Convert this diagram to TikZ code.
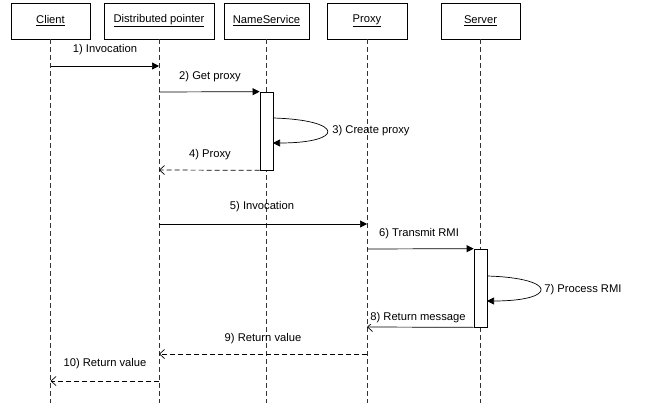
\documentclass[tikz,border=0pt]{standalone}
\usepackage{fontspec}
\setmainfont{Liberation Sans}
\usetikzlibrary{arrows.meta}
\begin{document}
\begin{tikzpicture}[x=1pt,y=-1pt,
  font=\fontsize{11.2}{13}\selectfont,
  line width=0.7pt,
  actor/.style={draw, minimum height=36pt, inner sep=0pt},
  lifeline/.style={draw=black!80, dash pattern=on 5pt off 3pt},
  activation/.style={draw, fill=white, minimum width=13pt, minimum height=78pt, inner sep=0pt},
  call/.style={-{Triangle[length=7pt,width=7pt]}},
  reply/.style={dash pattern=on 5pt off 3pt, -{Straight Barb[length=5pt,width=9pt]}},
  retmsg/.style={-{Straight Barb[length=5pt,width=9pt]}},
  lbl/.style={inner sep=0pt}
]
\useasboundingbox (0,0) rectangle (647,403);

% participants
\node[actor, minimum width=79pt]  (cl) at (50.5,21)  {\underline{Client}};
\node[actor, minimum width=110pt] (dp) at (159,21)   {\underline{Distributed pointer}};
\node[actor, minimum width=85pt]  (ns) at (266.5,21) {\underline{NameService}};
\node[actor, minimum width=80pt]  (px) at (367,21)   {\underline{Proxy}};
\node[actor, minimum width=79pt]  (sv) at (480.5,21) {\underline{Server}};

% lifeline ends
\coordinate (clEnd) at (50.5,403);
\coordinate (dpEnd) at (159,403);
\coordinate (nsEnd) at (266.5,403);
\coordinate (pxEnd) at (367,403);
\coordinate (svEnd) at (480.5,403);

\draw[lifeline] (cl.south) -- (clEnd);
\draw[lifeline] (dp.south) -- (dpEnd);
\draw[lifeline] (ns.south) -- (nsEnd);
\draw[lifeline] (px.south) -- (pxEnd);
\draw[lifeline] (sv.south) -- (svEnd);

% activation bars
\node[activation] (nsAct) at (266.5,131) {};
\node[activation] (svAct) at (480.5,288) {};

% message anchor points on the lifelines
\coordinate (c1) at (50.5,66);   \coordinate (d1) at (159,66);
\coordinate (d2) at (159,92);
\coordinate (d4) at (159,170);
\coordinate (d5) at (159,224);   \coordinate (p5) at (367,224);
\coordinate (p6) at (367,249);
\coordinate (p8) at (367,327);
\coordinate (p9) at (367,354);   \coordinate (d9) at (159,354);
\coordinate (d10) at (159,381);  \coordinate (c10) at (50.5,381);
\coordinate (ns3a) at (273,118); \coordinate (ns3b) at (273,143);
\coordinate (sv7a) at (487,276); \coordinate (sv7b) at (487,301);

% messages
\draw[call] (c1) -- (d1);
\draw[call] (d2) -- (nsAct.north west);
\draw[call] (ns3a) .. controls (345,120) and (345,143) .. (ns3b);
\draw[reply] (nsAct.south west) -- (d4);
\draw[call] (d5) -- (p5);
\draw[call] (p6) -- (svAct.north west);
\draw[call] (sv7a) .. controls (558,278) and (558,301) .. (sv7b);
\draw[retmsg] (svAct.south west) -- (p8);
\draw[reply] (p9) -- (d9);
\draw[reply] (d10) -- (c10);

% labels
\node[lbl] (l1)  at (105,50)   {1) Invocation};
\node[lbl] (l2)  at (210,77)   {2) Get proxy};
\node[lbl, anchor=west] (l3)  at (332,131)  {3) Create proxy};
\node[lbl] (l4)  at (210,155)  {4) Proxy};
\node[lbl] (l5)  at (262,207)  {5) Invocation};
\node[lbl] (l6)  at (419,234)  {6) Transmit RMI};
\node[lbl, anchor=west] (l7)  at (544,290)  {7) Process RMI};
\node[lbl, anchor=west, fill=white, inner ysep=1pt] (l8)  at (370,318)  {8) Return message};
\node[lbl] (l9)  at (263,339)  {9) Return value};
\node[lbl] (l10) at (105,364)  {10) Return value};
\end{tikzpicture}
\end{document}
